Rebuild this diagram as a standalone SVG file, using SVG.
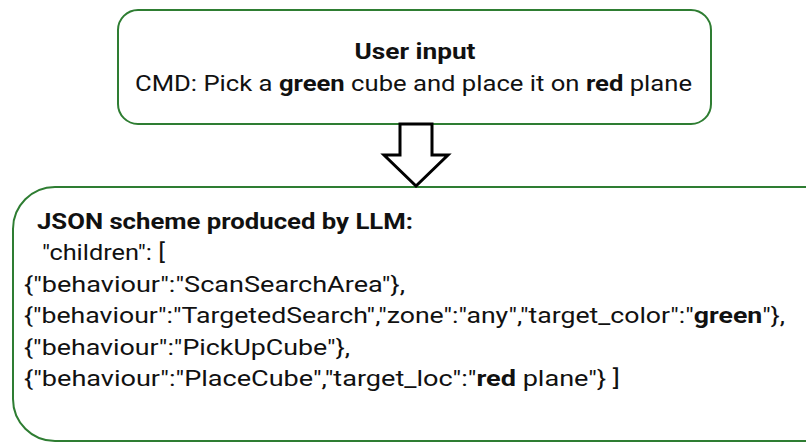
<svg xmlns="http://www.w3.org/2000/svg" width="806" height="443" viewBox="0 0 806 443">
  <style>
    .box { fill: #ffffff; stroke: #2e7d32; stroke-width: 2; }
    .t { font-family: Roboto, "Liberation Sans", Arial, sans-serif; font-size: 22.5px; fill: #111111; }
    .b { font-weight: bold; }
    .arrow { fill: #ffffff; stroke: #000000; stroke-width: 3; stroke-linejoin: miter; }
  </style>
  <rect width="806" height="443" fill="#ffffff"/>

  <!-- user input node -->
  <g id="user-input">
    <rect class="box" x="118" y="10" width="593" height="114" rx="20" ry="20"/>
    <text class="t b" x="415" y="59" text-anchor="middle" textLength="121" lengthAdjust="spacingAndGlyphs">User input</text>
    <text class="t" x="135" y="91" textLength="557" lengthAdjust="spacingAndGlyphs">CMD: Pick a <tspan class="b">green</tspan> cube and place it on <tspan class="b">red</tspan> plane</text>
  </g>

  <!-- JSON scheme node -->
  <g id="json-scheme">
    <rect class="box" x="13" y="187" width="840" height="254" rx="42" ry="42"/>
    <text class="t b" x="37" y="229" textLength="376" lengthAdjust="spacingAndGlyphs">JSON scheme produced by LLM:</text>
    <text class="t" x="42" y="260" textLength="123" lengthAdjust="spacingAndGlyphs">"children": [</text>
    <text class="t" x="24" y="292" textLength="381" lengthAdjust="spacingAndGlyphs">{"behaviour":"ScanSearchArea"},</text>
    <text class="t" x="24" y="323" textLength="761" lengthAdjust="spacingAndGlyphs">{"behaviour":"TargetedSearch","zone":"any","target_color":"<tspan class="b">green</tspan>"},</text>
    <text class="t" x="24" y="355" textLength="326" lengthAdjust="spacingAndGlyphs">{"behaviour":"PickUpCube"},</text>
    <text class="t" x="24" y="386" textLength="596" lengthAdjust="spacingAndGlyphs">{"behaviour":"PlaceCube","target_loc":"<tspan class="b">red</tspan> plane"}  ]</text>
  </g>

  <!-- connector: hollow block arrow -->
  <g id="connectors">
    <path class="arrow" d="M400,124 L432,124 L432,155 L448,155 L416,186 L384,155 L400,155 Z"/>
  </g>
</svg>
